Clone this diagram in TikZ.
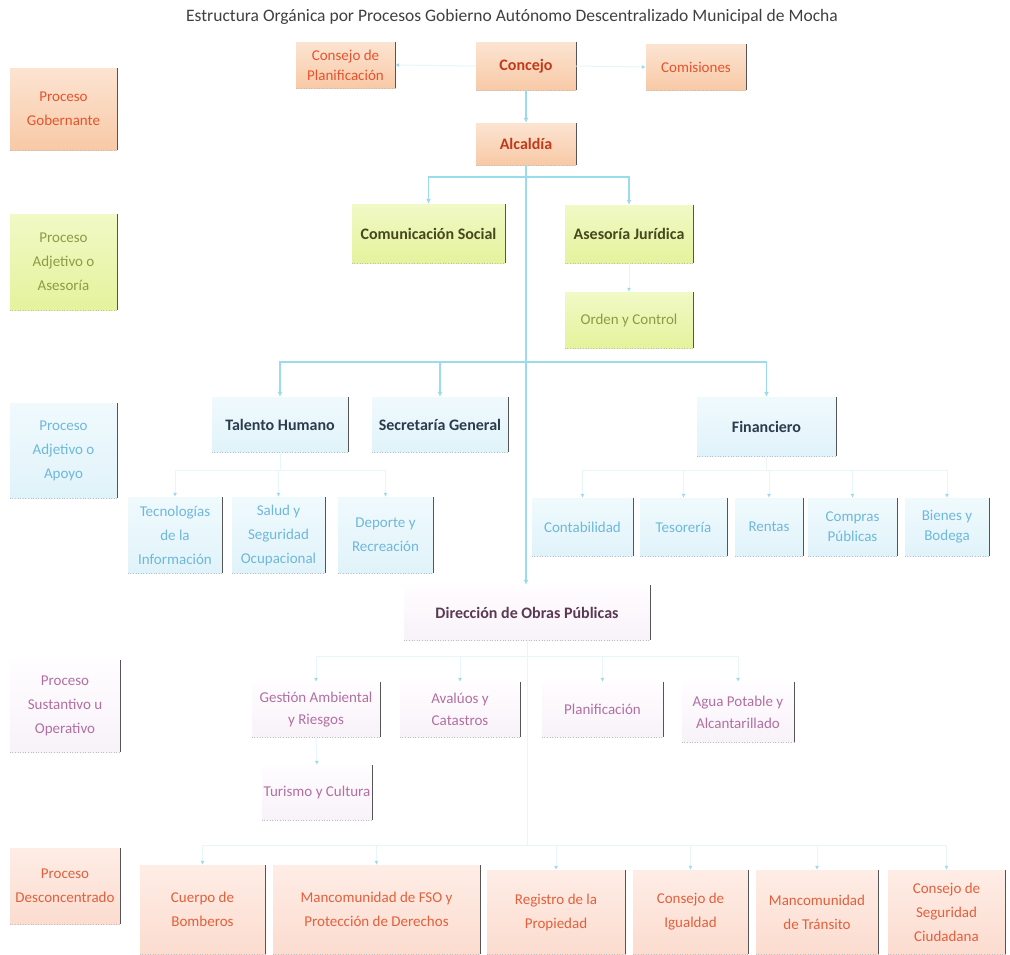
\documentclass[tikz,border=0pt]{standalone}
\usepackage{fontspec}
\setmainfont{Carlito}
\usetikzlibrary{arrows.meta}
\definecolor{gfillt}{HTML}{FCE4D2}
\definecolor{gfill}{HTML}{F8C9A6}
\definecolor{gtext}{HTML}{E5532E}
\definecolor{gbold}{HTML}{C23A1C}
\definecolor{afillt}{HTML}{F1F9C6}
\definecolor{afill}{HTML}{E4F39C}
\definecolor{atext}{HTML}{8C9C44}
\definecolor{abold}{HTML}{46481E}
\definecolor{pfillt}{HTML}{F0FAFD}
\definecolor{pfill}{HTML}{E0F3FA}
\definecolor{ptext}{HTML}{6FB8DA}
\definecolor{pbold}{HTML}{2C3C4E}
\definecolor{sfillt}{HTML}{FFFDFF}
\definecolor{sfill}{HTML}{F8F2F9}
\definecolor{stext}{HTML}{B26FA2}
\definecolor{sbold}{HTML}{5A3A52}
\definecolor{dfillt}{HTML}{FEEDE6}
\definecolor{dfill}{HTML}{FCDCCF}
\definecolor{dtext}{HTML}{E2603C}
\definecolor{cline}{HTML}{9ADBEC}
\definecolor{fline}{HTML}{E8F5F9}
\definecolor{redge}{HTML}{555555}
\tikzset{
  box/.style={inner sep=1pt, align=center, font=\fontsize{15}{24}\selectfont},
  bfont/.style={font=\fontsize{16}{24}\selectfont\bfseries},
  gob/.style={box, top color=gfillt, bottom color=gfill, text=gtext},
  gobb/.style={gob, text=gbold, bfont},
  ase/.style={box, top color=afillt, bottom color=afill, text=atext},
  aseb/.style={ase, text=abold, bfont},
  apo/.style={box, top color=pfillt, bottom color=pfill, text=ptext},
  apob/.style={apo, text=pbold, bfont},
  sus/.style={box, top color=sfillt, bottom color=sfill, text=stext},
  susb/.style={sus, text=sbold, bfont},
  des/.style={box, top color=dfillt, bottom color=dfill, text=dtext},
  rightedge/.style={draw=redge, line width=1.4pt},
  botedge/.style={draw=black!25, line width=0.6pt, dotted},
  conn/.style={draw=cline, line width=1.2pt, -{Latex[length=5pt,width=5pt]}},
  faint/.style={draw=fline, line width=1pt, -{Latex[length=4pt,width=4pt,color=cline]}},
}
\newcommand\bx[7]{%
  \node[#6, minimum width={(#4)-(#2)}, minimum height={(#5)-(#3)}] (#1) at ({((#2)+(#4))/2},{((#3)+(#5))/2}) {#7};
  \draw[rightedge] (#1.north east) -- (#1.south east);
  \draw[botedge] (#1.south west) -- (#1.south east);
}
\begin{document}
\begin{tikzpicture}[x=1pt,y=-1pt]
\useasboundingbox[fill=white] (0,0) rectangle (1010,954);
\node[font=\fontsize{17.5}{20}\selectfont, text=black!75] (title) at (512,17) {Estructura Orgánica por Procesos Gobierno Autónomo Descentralizado Municipal de Mocha};
% process labels
\bx{pg}{10}{68}{117}{150}{gob}{Proceso\\Gobernante}
\bx{pa}{10}{214}{117}{310}{ase}{Proceso\\Adjetivo o\\Asesoría}
\bx{pp}{10}{403}{117}{498}{apo}{Proceso\\Adjetivo o\\Apoyo}
\bx{ps}{10}{660}{120}{752}{sus}{Proceso\\Sustantivo u\\Operativo}
\bx{pd}{10}{848}{120}{924}{des}{Proceso\\Desconcentrado}
% gobernante
\bx{cplan}{296}{42}{395}{88}{gob}{Consejo de\\[-4pt]Planificación}
\bx{concejo}{476}{42}{576}{90}{gobb}{Concejo}
\bx{comis}{646}{44}{746}{90}{gob}{Comisiones}
\bx{alc}{476}{123}{576}{165}{gobb}{Alcaldía}
% asesoria
\bx{cs}{352}{204}{505}{263}{aseb}{Comunicación Social}
\bx{aj}{565}{205}{693}{263}{aseb}{Asesoría Jurídica}
\bx{oc}{565}{292}{693}{348}{ase}{Orden y Control}
% apoyo
\bx{th}{212}{397}{348}{452}{apob}{Talento Humano}
\bx{sg}{372}{397}{508}{452}{apob}{Secretaría General}
\bx{fin}{697}{397}{836}{456}{apob}{Financiero}
\bx{tic}{128}{497}{222}{573}{apo}{Tecnologías\\de la\\Información}
\bx{sal}{232}{497}{325}{573}{apo}{Salud y\\Seguridad\\Ocupacional}
\bx{dep}{338}{497}{433}{573}{apo}{Deporte y\\Recreación}
\bx{cont}{532}{498}{633}{556}{apo}{Contabilidad}
\bx{tes}{640}{498}{727}{556}{apo}{Tesorería}
\bx{ren}{735}{498}{803}{556}{apo}{Rentas}
\bx{comp}{808}{498}{897}{556}{apo}{Compras\\[-4pt]Públicas}
\bx{bien}{905}{498}{989}{556}{apo}{Bienes y\\[-4pt]Bodega}
% sustantivo
\bx{dop}{404}{585}{650}{640}{susb}{Dirección de Obras Públicas}
\bx{gest}{252}{682}{380}{737}{sus}{Gestión Ambiental\\[-2pt]y Riesgos}
\bx{aval}{400}{682}{520}{737}{sus}{Avalúos y\\[-2pt]Catastros}
\bx{plan}{542}{682}{663}{737}{sus}{Planificación}
\bx{agua}{682}{682}{794}{742}{sus}{Agua Potable y\\[-2pt]Alcantarillado}
\bx{tur}{262}{765}{372}{820}{sus}{Turismo y Cultura}
% desconcentrado
\bx{cb}{140}{865}{265}{954}{des}{Cuerpo de\\Bomberos}
\bx{mfso}{273}{865}{480}{954}{des}{Mancomunidad de FSO y\\Protección de Derechos}
\bx{reg}{487}{870}{625}{954}{des}{Registro de la\\Propiedad}
\bx{igu}{633}{870}{748}{954}{des}{Consejo de\\Igualdad}
\bx{tra}{756}{870}{878}{954}{des}{Mancomunidad\\de Tránsito}
\bx{seg}{888}{870}{1005}{954}{des}{Consejo de\\Seguridad\\Ciudadana}
% connectors
\draw[faint] (concejo.west) -- (cplan.east);
\draw[faint] (concejo.east) -- (comis.west);
\draw[conn] (concejo.south) -- (alc.north);
\draw[conn] (alc.south) -- (alc.south |- dop.north);
\coordinate (b1) at (526,177);
\coordinate (b2) at (526,362);
\draw[conn] (b1) -| (cs.north);
\draw[conn] (b1) -| (aj.north);
\draw[faint] (aj.south) -- (oc.north);
\draw[conn] (b2) -| (th.north);
\draw[conn] (b2) -| (sg.north);
\draw[conn] (b2) -| (fin.north);
\foreach \c in {tic,sal,dep}{\draw[faint] (th.south) -- ++(0,18) -| (\c.north);}
\foreach \c in {cont,tes,ren,comp,bien}{\draw[faint] (fin.south) -- ++(0,14) -| (\c.north);}
\foreach \c in {gest,aval,plan,agua}{\draw[faint] (dop.south) -- ++(0,16) -| (\c.north);}
\draw[faint] (gest.south) -- (tur.north);
\coordinate (b5) at (527,845);
\draw[fline, line width=1pt] (dop.south) -- (b5);
\foreach \c in {cb,mfso,reg,igu,tra,seg}{\draw[faint] (b5) -| (\c.north);}
\end{tikzpicture}
\end{document}
